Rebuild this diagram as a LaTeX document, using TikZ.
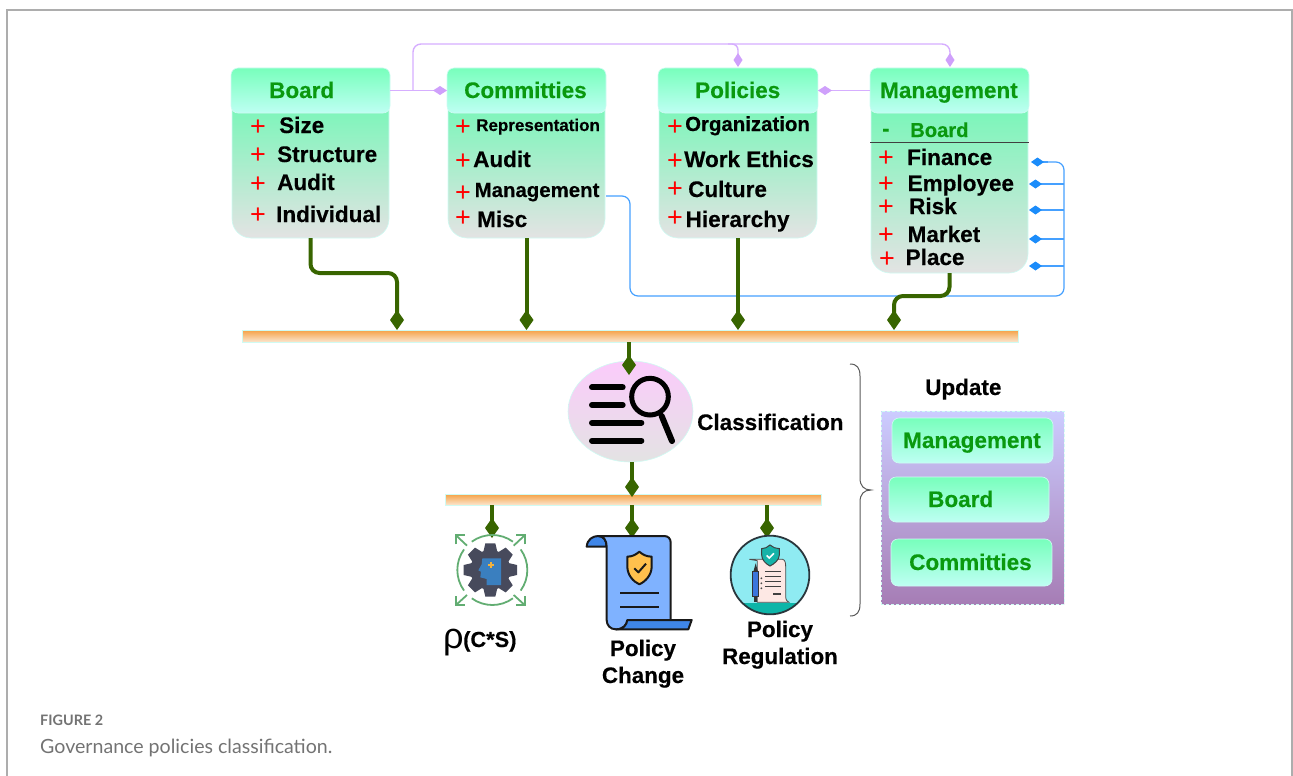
\documentclass[tikz,border=0pt]{standalone}
\usepackage{fontspec}
\setmainfont{Liberation Sans}[BoldFeatures={FakeBold=0.35}]
\newfontfamily\capfont{Lato}
\usetikzlibrary{arrows.meta,shapes.geometric,calc}
\definecolor{hdtop}{HTML}{78FFBC}
\definecolor{hdbot}{HTML}{BEFFF3}
\definecolor{bodytop}{HTML}{6FF8B5}
\definecolor{bodybot}{HTML}{E3E3E3}
\definecolor{edgecy}{HTML}{CFFBF3}
\definecolor{hdgreen}{HTML}{0A990F}
\definecolor{stem}{HTML}{386500}
\definecolor{purp}{HTML}{D6AEFF}
\definecolor{purpd}{HTML}{CFA0FB}
\definecolor{blueln}{HTML}{45A0FF}
\definecolor{bluedm}{HTML}{1B8CFA}
\definecolor{capgray}{HTML}{737373}
\definecolor{bartop}{HTML}{F5A145}
\definecolor{barbot}{HTML}{FBE6CF}
\definecolor{elltop}{HTML}{FBCBFB}
\definecolor{ringg}{HTML}{62AD72}
\definecolor{gearc}{HTML}{474A5C}
\definecolor{headc}{HTML}{3A7FBF}
\definecolor{plusc}{HTML}{F3B23D}
\definecolor{scl}{HTML}{7FB2FF}
\definecolor{scd}{HTML}{3F86E8}
\definecolor{shy}{HTML}{FFC04D}
\definecolor{regbg}{HTML}{8FEBF2}
\definecolor{regteal}{HTML}{0DB5A8}
\definecolor{regpap}{HTML}{FDE8E4}
\definecolor{regpen}{HTML}{3B76DC}
\definecolor{regsh}{HTML}{16B3A8}
\definecolor{regedge}{HTML}{2A363C}
\definecolor{pantop}{HTML}{CCCCFF}
\definecolor{panbot}{HTML}{A67DB5}
\tikzset{
  hdbox/.style={rectangle,rounded corners=7,top color=hdtop,bottom color=hdbot,draw=edgecy,line width=.6pt,inner sep=0,outer sep=0},
  bodybox/.style={rectangle,rounded corners=19,top color=bodytop,bottom color=bodybot,draw=edgecy,line width=.6pt,inner sep=0,outer sep=0},
  bar/.style={rectangle,top color=bartop,bottom color=barbot,draw=edgecy,line width=.5pt,inner sep=0,outer sep=0},
  hdt/.style={anchor=base west,inner sep=0,text=hdgreen,font=\fontsize{22.5}{26}\selectfont\bfseries},
  itm/.style={anchor=base west,inner sep=0,text=black,font=\fontsize{22.5}{26}\selectfont\bfseries},
  itmsm/.style={itm,font=\fontsize{20.4}{24}\selectfont\bfseries},
  lbl/.style={anchor=base,inner sep=0,text=black,font=\fontsize{22.4}{26}\selectfont\bfseries},
  pls/.style={anchor=base,inner sep=0,text=red,font=\fontsize{27}{28}\selectfont},
  gstem/.style={draw=stem,line width=4pt,-{Diamond[length=20pt,width=14pt,fill=stem]}},
  gconn/.style={gstem,rounded corners=9},
  pconn/.style={draw=purp,line width=1.4pt},
  ptip/.style={-{Diamond[length=14pt,width=9pt,fill=purpd,color=purpd]}},
  bconn/.style={draw=blueln,line width=1.2pt},
  btip/.style={-{Diamond[length=13pt,width=9pt,fill=bluedm,color=bluedm]}},
  icon/.style={shift={#1},x=.33333pt,y=-.33333pt},
  ink/.style={draw=black!90,line width=2pt,line join=round},
}
\newcommand{\plusat}[2]{\node[pls] (p#1x#2) at (#1,#2+9) {+};}
\begin{document}
\begin{tikzpicture}[x=1pt,y=-1pt]
\useasboundingbox (0,0) rectangle (1293,776);
% frame
\draw[black!32,line width=1.4pt] (7,776) -- (7,10) -- (1292,10) -- (1292,776);
% purple and blue connectors
\coordinate (jb) at (413,90);
\coordinate (polTop) at (738,67);
\coordinate (mgTop) at (950,67);
\coordinate (cmS) at (606,196);
\coordinate (mF) at (1031,162);
\coordinate (mE) at (1029,184);
\coordinate (mR) at (1029,210);
\coordinate (mK) at (1029,239);
\coordinate (mP) at (1029,266);
% boxes
\node[bodybox,minimum width=157,minimum height=147] (boardb) at (310.5,164.5) {};
\node[hdbox,minimum width=159,minimum height=45] (board) at (310.5,90.5) {};
\node[bodybox,minimum width=157,minimum height=147] (commb) at (526.5,164.5) {};
\node[hdbox,minimum width=159,minimum height=45] (comm) at (526.5,90.5) {};
\node[bodybox,minimum width=158,minimum height=147] (polb) at (738,164.5) {};
\node[hdbox,minimum width=160,minimum height=45] (pol) at (738,90.5) {};
\node[bodybox,minimum width=157,minimum height=182] (mgb) at (949.5,182) {};
\node[hdbox,minimum width=159,minimum height=45] (mg) at (949.5,90.5) {};
\draw[black!75,line width=.9pt] (mg.west |- 0,142) -- (mg.east |- 0,142);
\draw[pconn,ptip] (board.east) -- (comm.west);
\draw[pconn,ptip,rounded corners=8] (jb) -- (413,44) -- (950,44) -- (mgTop);
\draw[pconn,ptip,rounded corners=6] (728,44) -- (738,44) -- (polTop);
\draw[pconn,ptip] (mg.west) -- (pol.east);
\draw[bconn,rounded corners=8] (cmS) -- (630,196) -- (630,296) -- (1064,296) -- (1064,162) -- (1040,162);
\draw[bconn,btip] (1048,162) -- (mF);
\draw[bconn,btip] (1064,184) -- (mE);
\draw[bconn,btip] (1064,210) -- (mR);
\draw[bconn,btip] (1064,239) -- (mK);
\draw[bconn,btip] (1064,266) -- (mP);
% header text
\node[hdt] (tb) at (269,98) {Board};
\node[hdt] (tc) at (464,98) {Committies};
\node[hdt] (tp) at (695,98) {Policies};
\node[hdt] (tm) at (880,98) {Management};
% board items
\plusat{258}{126}\plusat{258}{154}\plusat{258}{183}\plusat{258}{214}
\node[itm] (b1) at (279,133) {Size};
\node[itm] (b2) at (277,162) {Structure};
\node[itm] (b3) at (277,190) {Audit};
\node[itm] (b4) at (276,222) {Individual};
% committies items
\plusat{463}{126}\plusat{463}{160}\plusat{463}{192}\plusat{463}{217}
\node[itm,font=\fontsize{17}{20}\selectfont\bfseries] (c1) at (476,131) {Representation};
\node[itm] (c2) at (473,167) {Audit};
\node[itmsm] (c3) at (474.5,197) {Management};
\node[itm] (c4) at (477,227) {Misc};
% policies items
\plusat{675}{126}\plusat{675}{160}\plusat{675}{188}\plusat{675}{217}
\node[itmsm] (q1) at (685,131) {Organization};
\node[itm] (q2) at (684,167) {Work Ethics};
\node[itm] (q3) at (688,197) {Culture};
\node[itm] (q4) at (685.5,227) {Hierarchy};
% management items
\node[hdt,font=\fontsize{22}{26}\selectfont\bfseries] (md) at (882,136) {-};
\node[hdt,font=\fontsize{20.2}{24}\selectfont\bfseries] (mb) at (910,137) {Board};
\plusat{886}{157}\plusat{886}{183}\plusat{886}{206}\plusat{886}{234}\plusat{887}{258}
\node[itm] (m1) at (907,165) {Finance};
\node[itm] (m2) at (907.5,191) {Employee};
\node[itm] (m3) at (909,214) {Risk};
\node[itm] (m4) at (907.5,242) {Market};
\node[itm] (m5) at (905.5,265) {Place};
% bars
\node[bar,minimum width=776,minimum height=12] (bar1) at (630,336) {};
\node[bar,minimum width=376,minimum height=11] (bar2) at (633,499.5) {};
% classification
\node[ellipse,top color=elltop,bottom color=bodybot,draw=edgecy,line width=.6pt,minimum width=125,minimum height=101,inner sep=0,outer sep=0] (cls) at (630.5,411.5) {};
\begin{scope}[icon={(430,340)},line cap=round,draw=black]
  \draw[line width=6pt] (486,142) -- (578,142);
  \draw[line width=6pt] (486,195) -- (578,195);
  \draw[line width=6pt] (486,248) -- (634,248);
  \draw[line width=6pt] (486,302) -- (634,302);
  \draw[line width=5pt] (660,170) circle [radius=55];
  \draw[line width=6pt] (695,228) -- (726,303);
\end{scope}
\node[itm] (tcl) at (697,430) {Classification};
% green connectors
\coordinate (e1) at (397,330);
\coordinate (e4) at (894,330);
\coordinate (t1) at (492,538);
\coordinate (t2) at (632,538);
\coordinate (t3) at (767,538);
\coordinate (cx) at (629,375);
\coordinate (cy) at (632,497);
\draw[gconn] (board.south |- boardb.south) -- (board.south |- 0,273) -- (e1 |- 0,273) -- (e1);
\draw[gstem] (comm.south |- commb.south) -- (comm.south |- bar1.north);
\draw[gstem] (pol.south |- polb.south) -- (pol.south |- bar1.north);
\draw[gconn] (mg.south |- mgb.south) -- (mg.south |- 0,296) -- (e4 |- 0,296) -- (e4);
\draw[gstem] (cx |- bar1.south) -- (cx);
\draw[gstem] (cy |- cls.south) -- (cy);
\draw[gstem] (t1 |- bar2.south) -- (t1);
\draw[gstem] (t2 |- bar2.south) -- (t2);
\draw[gstem] (t3 |- bar2.south) -- (t3);
% gear icon
\begin{scope}[icon={(445,525)}]
  \begin{scope}[draw=ringg,line width=1.8pt]
    \foreach \a in {0,90,180,270}{
      \draw ({142+105*cos(\a-36)},{135+105*sin(\a-36)}) arc[start angle=\a-36,end angle=\a+36,radius=105];
    }
    \draw (66,62) -- (33,31); \draw (33,58) -- (33,31) -- (60,31);
    \draw (206,62) -- (239,31); \draw (239,58) -- (239,31) -- (212,31);
    \draw (66,210) -- (33,240); \draw (33,213) -- (33,240) -- (60,240);
    \draw (206,210) -- (239,240); \draw (239,213) -- (239,240) -- (212,240);
  \end{scope}
  \fill[gearc] (136,135) circle [radius=60];
  \foreach \a in {0,45,...,315}{
    \fill[gearc,shift={(136,135)},rotate=\a] (-15,-80) -- (15,-80) -- (22,-50) -- (-22,-50) -- cycle;
  }
  \fill[headc] (112,100) -- (168,100) -- (168,180) -- (125,180) -- (125,162) -- (106,157) -- (108,140) -- (100,136) -- (110,118) -- cycle;
  \fill[plusc] (130,117) rectangle (148,123);
  \fill[plusc] (136,111) rectangle (142,129);
\end{scope}
% scroll icon
\begin{scope}[icon={(570,530)}]
  \filldraw[ink,fill=scd] (50,50) .. controls (52,28) and (68,18) .. (85,18) .. controls (100,18) and (110,30) .. (110,50) -- cycle;
  \filldraw[ink,fill=scl] (85,18) -- (282,18) .. controls (295,18) and (302,26) .. (302,38) -- (302,272) -- (172,272) .. controls (170,285) and (160,298) .. (138,298) .. controls (120,298) and (110,285) .. (110,270) -- (110,50) .. controls (110,30) and (100,18) .. (85,18) -- cycle;
  \filldraw[ink,fill=scd] (172,270) -- (365,270) -- (355,298) -- (138,298) .. controls (160,298) and (170,285) .. (172,270) -- cycle;
  \filldraw[ink,fill=shy] (208,65) .. controls (198,74) and (186,80) .. (172,80) -- (172,110) .. controls (172,135) and (190,155) .. (208,163) .. controls (226,155) and (245,135) .. (245,110) -- (245,80) .. controls (230,80) and (218,74) .. (208,65) -- cycle;
  \draw[ink] (193,115) -- (205,127) -- (228,101);
  \draw[ink] (150,188) -- (267,188);
  \draw[ink] (150,232) -- (267,232);
\end{scope}
% regulation icon
\begin{scope}[icon={(720,530)}]
  \fill[regbg] (150,135) circle [radius=118];
  \begin{scope}
    \clip (150,135) circle [radius=118];
    \fill[regteal] (20,218) rectangle (280,260);
  \end{scope}
  \filldraw[draw=black!70,line width=.8pt,fill=regpap] (88,88) -- (188,88) .. controls (196,90) and (197,100) .. (197,110) -- (197,200) .. controls (197,210) and (202,215) .. (207,217) -- (112,217) -- (112,92) -- cycle;
  \foreach \yy in {125,140,155,170}{\draw[black!75,line width=1.1pt] (135,\yy) -- (182,\yy);}
  \draw[black!75,line width=1.1pt] (160,192) -- (182,192);
  \foreach \yy in {145,160,175}{\fill[black!70] (124,\yy) circle [radius=3];}
  \fill[black!80] (107,100) -- (114,125) -- (100,125) -- cycle;
  \filldraw[draw=black!80,line width=.8pt,fill=regpen] (98,125) rectangle (116,200);
  \fill[black!80] (103,200) rectangle (111,215);
  \filldraw[draw=black!75,line width=1pt,fill=regsh] (150,45) .. controls (142,52) and (134,56) .. (125,56) -- (125,75) .. controls (125,90) and (138,102) .. (150,108) .. controls (162,102) and (178,90) .. (178,75) -- (178,56) .. controls (168,56) and (158,52) .. (150,45) -- cycle;
  \draw[white,line width=1.6pt] (140,76) -- (148,84) -- (162,70);
  \draw[draw=regedge,line width=1.8pt] (150,135) circle [radius=118];
\end{scope}
% lower labels
\node[anchor=base west,inner sep=0,font=\fontsize{36}{38}\selectfont] (rho) at (443,648) {ρ};
\node[itm,font=\fontsize{21.8}{24}\selectfont\bfseries] (cs) at (463,647) {(C*S)};
\node[lbl] (pc1) at (643,656) {Policy};
\node[lbl] (pc2) at (643,683) {Change};
\node[lbl] (pr1) at (780,637) {Policy};
\node[lbl] (pr2) at (780,664) {Regulation};
% brace
\draw[black!65,line width=1pt] (850,364) .. controls (857,364) and (860,368) .. (860,376) -- (860,478) .. controls (860,486) and (864,490) .. (871,490) .. controls (864,490) and (860,494) .. (860,502) -- (860,604) .. controls (860,612) and (857,616) .. (850,616);
% update panel
\node[itm] (tu) at (925,395) {Update};
\node[rectangle,top color=pantop,bottom color=panbot,draw=edgecy,densely dashed,line width=.6pt,minimum width=183,minimum height=193,inner sep=0,outer sep=0] (panel) at (972.5,507.5) {};
\node[hdbox,minimum width=161,minimum height=45] (sm) at (972.5,440.5) {};
\node[hdbox,minimum width=160,minimum height=45] (sb) at (969,499.5) {};
\node[hdbox,minimum width=161,minimum height=47] (sc) at (971.5,562.5) {};
\node[hdt] (tsm) at (903,448) {Management};
\node[hdt] (tsb) at (928,507) {Board};
\node[hdt] (tsc) at (909,570) {Committies};
% caption
\node[anchor=base west,inner sep=0,text=capgray,font=\capfont\fontsize{14.4}{16}\selectfont\bfseries] (cap1) at (40,725) {FIGURE 2};
\node[anchor=base west,inner sep=0,text=capgray,font=\capfont\fontsize{19.6}{22}\selectfont] (cap2) at (40,753) {Governance policies classification.};
\end{tikzpicture}
\end{document}
